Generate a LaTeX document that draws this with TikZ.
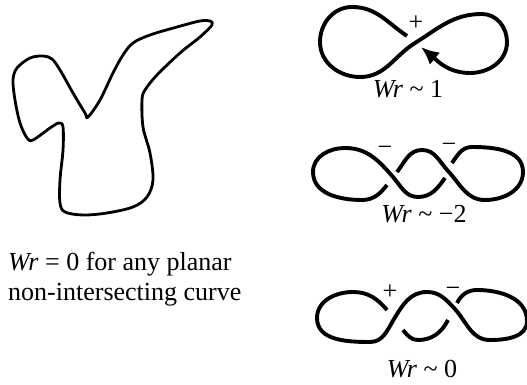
\documentclass[tikz,border=0pt]{standalone}
\usepackage{fontspec}
\setmainfont{Liberation Serif}
\usetikzlibrary{arrows.meta}
\newcommand{\wrfont}{\fontsize{26}{30}\selectfont}
\tikzset{
  blobline/.style={line width=2.8pt,line join=round},
  knotline/.style={line width=3.9pt},
  wrtext/.style={font=\wrfont,inner sep=0pt,anchor=base},
  signmark/.style={font=\wrfont,inner sep=0pt}
}

\begin{document}
\begin{tikzpicture}[x=1pt,y=1pt]
\useasboundingbox (0,0) rectangle (527,385);
% planar curve
\draw[blobline] plot[smooth cycle,tension=0.55] coordinates {
  (88,268) (100,285) (113,312) (123,330) (133,342) (150,350) (177,358)
  (200,364) (210,364) (212,360) (200,348) (180,332) (157,310) (145,295)
  (142,285) (143,258) (150,232) (153,205) (147,188) (133,178) (107,172)
  (83,170) (65,173) (60,182) (60,205) (63,235) (63,258) (59,262) (50,257)
  (33,245) (27,247) (20,262) (15,285) (13,305) (17,317) (30,327) (43,329)
  (52,326) (60,315) (73,292) (85,272)};
\node[wrtext,anchor=base west,align=left] (planar) at (8,84)
  {\textit{Wr} = 0 for any planar\\non-intersecting curve};
% figure eight
\draw[knotline,-{Latex[length=18pt,width=16pt]}] (407,349) to[out=146,in=0] (352,378)
  to[out=180,in=90] (320,343) to[out=-90,in=180] (360,308) to[out=0,in=212] (415,342)
  to[out=32,in=180] (482,371) to[out=0,in=90] (507,343) to[out=-90,in=0] (470,312)
  to[out=180,in=-40] (421,338);
\node[signmark] (plusA) at (416,362) {+};
\node[wrtext] (wrA) at (408,287) {\textit{Wr} \textasciitilde{} 1};
% two negative crossings
\draw[knotline] (387,200) to[out=232,in=0] (362,185) to[out=180,in=-90] (313,213)
  to[out=90,in=180] (345,237) to[out=0,in=131] (393,208) to[out=-49,in=180] (418,188)
  to[out=0,in=235] (445,207);
\draw[knotline] (452,222) to[out=55,in=180] (472,238) to[out=0,in=90] (523,213)
  to[out=-90,in=0] (485,185) to[out=180,in=-47] (448,214) to[out=133,in=0] (422,235)
  to[out=180,in=52] (397,213);
\node[signmark] (minusB) at (385,234) {−};
\node[signmark] (minusC) at (449,237) {−};
\node[wrtext] (wrB) at (424,162) {\textit{Wr} \textasciitilde{} −2};
% one positive, one negative
\draw[knotline] (457,82) to[out=63,in=180] (477,95) to[out=0,in=90] (527,64)
  to[out=-90,in=0] (490,45) to[out=180,in=-47] (454,77) to[out=133,in=0] (427,93)
  to[out=180,in=59] (394,66) to[out=239,in=0] (370,43) to[out=180,in=-90] (317,67)
  to[out=90,in=180] (353,93) to[out=0,in=130] (387,75);
\draw[knotline] (403,55) to[out=-50,in=180] (418,45) to[out=0,in=243] (448,65);
\node[signmark] (plusD) at (390,93) {+};
\node[signmark] (minusE) at (453,93) {−};
\node[wrtext] (wrC) at (422,7) {\textit{Wr} \textasciitilde{} 0};
\end{tikzpicture}
\end{document}
